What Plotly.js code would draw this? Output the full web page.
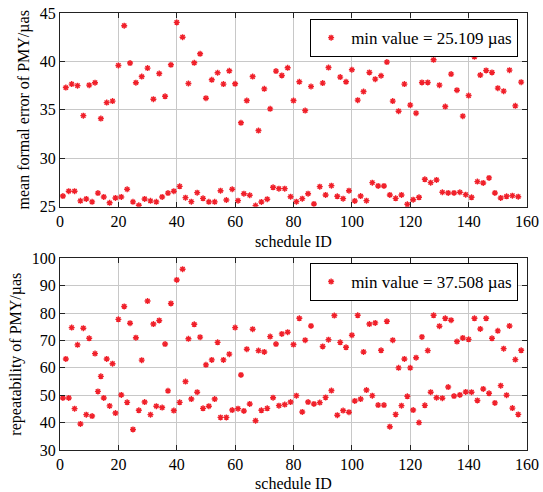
<!DOCTYPE html>
<html>
<head>
<meta charset="utf-8">
<script src="https://cdn.plot.ly/plotly-3.0.1.min.js"></script>
<style>html,body{margin:0;padding:0;background:#fff;}#chart{width:543px;height:492px;}</style>
</head>
<body>
<div id="chart"></div>
<script>
// schedule IDs 1..158
var scheduleIds = [];
for (var i = 1; i <= 158; i++) scheduleIds.push(i);

// mean formal error of PMY (µas), schedule 1..158
var formalError = [
26.1,37.3,26.6,37.66,26.6,37.5,25.6,34.4,25.8,37.55,
25.5,37.8,26.4,34.1,26.0,35.75,25.4,35.9,25.9,39.58,
26.0,43.69,26.8,39.83,25.5,37.8,25.14,38.44,25.8,39.31,
25.6,36.1,25.5,38.75,26.0,36.4,26.4,39.65,26.6,44.03,
27.1,42.5,25.93,37.72,25.52,39.86,26.45,40.79,25.86,36.2,
25.5,38.1,25.5,38.83,26.65,37.66,25.69,39.03,26.8,37.69,
25.62,33.66,26.34,35.96,26.18,38.44,25.109,32.86,25.49,37.17,
25.77,35.1,27.0,39.0,26.86,38.55,26.86,39.34,26.03,35.96,
25.52,37.9,25.83,34.93,26.34,37.41,25.28,41.2,27.07,37.76,
26.21,39.37,27.17,42.96,26.07,38.38,25.83,37.9,26.65,39.14,
25.59,36.0,26.1,36.89,25.62,38.86,27.48,38.17,27.14,38.52,
27.14,39.93,26.21,35.9,25.86,34.86,26.21,37.66,25.25,35.49,
25.72,34.66,25.97,37.83,27.83,37.83,27.48,40.17,27.76,37.55,
26.49,35.34,26.42,38.69,26.42,37.03,26.49,34.35,26.24,36.48,
25.97,40.48,27.59,38.59,27.45,39.07,27.97,38.86,26.42,37.24,
25.9,36.93,26.07,39.1,26.14,35.41,26.03,37.86
];

// repeatability of PMY (µas), schedule 1..158
var repeatability = [
49.0,63.25,49.0,74.7,45.1,68.4,39.5,74.46,42.9,70.8,
42.4,65.2,51.4,56.9,49.0,63.25,46.1,61.5,43.5,77.7,
50.1,82.4,47.4,76.3,37.508,71.0,44.5,62.8,47.5,84.4,
42.9,76.0,46.0,77.3,45.5,68.7,51.6,83.5,44.4,92.1,
47.4,96.0,55.0,70.6,48.6,75.9,51.1,71.2,45.2,61.1,
46.0,62.9,48.6,69.3,41.9,62.9,41.9,65.0,44.6,74.7,
45.1,57.4,44.25,66.8,46.8,74.1,40.7,66.3,44.5,65.8,
45.2,71.4,49.1,68.7,46.2,72.4,46.6,73.0,47.5,68.5,
49.85,78.1,43.9,70.1,47.5,75.3,46.8,87.5,47.3,67.8,
49.2,70.3,51.7,79.1,42.7,69.3,44.4,67.5,43.8,71.9,
47.9,79.2,48.6,65.8,51.9,76.0,49.85,76.4,46.4,66.4,
46.4,77.0,38.5,70.1,43.0,60.0,46.2,63.25,49.6,60.0,
44.6,63.7,40.0,71.3,46.3,66.3,51.1,79.2,49.1,75.2,
48.9,78.1,53.0,77.4,49.7,69.6,50.1,70.9,51.2,70.4,
51.1,78.1,48.1,74.2,52.3,78.1,50.7,70.8,47.2,73.5,
53.5,67.0,50.0,75.3,45.3,63.0,43.0,66.4
];

var legendTop = 'min value = 25.109 µas';
var legendBottom = 'min value = 37.508 µas';
var xTitle = 'schedule ID';
var yTitleTop = 'mean formal error of PMY/µas';
var yTitleBottom = 'repeatability of PMY/µas';

var FONT = 'Liberation Serif, Times New Roman, serif';
var RED = '#f0202a';
var marker = {symbol: 'asterisk-open', size: 5, color: RED, line: {color: RED, width: 1.4}};

var traces = [
  {x: scheduleIds, y: formalError, type: 'scatter', mode: 'markers', marker: marker,
   name: legendTop, xaxis: 'x', yaxis: 'y', legend: 'legend'},
  {x: scheduleIds, y: repeatability, type: 'scatter', mode: 'markers', marker: marker,
   name: legendBottom, xaxis: 'x2', yaxis: 'y2', legend: 'legend2'}
];

function xax(anchor) {
  return {domain: [0, 1], anchor: anchor, range: [0, 160], tick0: 0, dtick: 20,
    ticks: 'inside', ticklen: 5, tickcolor: '#222', mirror: 'ticks', showline: true,
    linecolor: '#222', linewidth: 1, showgrid: true, gridcolor: '#c8c8c8', zeroline: false,
    tickfont: {family: FONT, size: 16, color: '#000'},
    title: {text: xTitle, font: {family: FONT, size: 16, color: '#000'}, standoff: 6}};
}
function yax(anchor, dom, rng, dt, title) {
  return {domain: dom, anchor: anchor, range: rng, dtick: dt,
    ticks: 'inside', ticklen: 5, tickcolor: '#222', mirror: 'ticks', showline: true,
    linecolor: '#222', linewidth: 1, showgrid: true, gridcolor: '#c8c8c8', zeroline: false,
    tickfont: {family: FONT, size: 16, color: '#000'},
    title: {text: title, font: {family: FONT, size: 16, color: '#000'}, standoff: 6}};
}

var legendStyle = function (y) {
  return {x: 0.981, xanchor: 'right', y: y, yanchor: 'top', bgcolor: '#fff',
    bordercolor: '#000', borderwidth: 1, font: {family: FONT, size: 17, color: '#000'},
    itemwidth: 30, tracegroupgap: 0};
};

var layout = {
  width: 543, height: 492,
  margin: {l: 60, r: 16, t: 13, b: 42},
  paper_bgcolor: '#fff', plot_bgcolor: '#fff',
  font: {family: FONT, color: '#000'},
  xaxis: xax('y'),
  yaxis: yax('x', [0.5568, 1], [25, 45], 5, yTitleTop),
  xaxis2: xax('y2'),
  yaxis2: yax('x2', [0, 0.4387], [30, 100], 10, yTitleBottom),
  showlegend: true,
  legend: legendStyle(0.986),
  legend2: legendStyle(0.428)
};

Plotly.newPlot('chart', traces, layout, {staticPlot: true, displayModeBar: false});
</script>
</body>
</html>
